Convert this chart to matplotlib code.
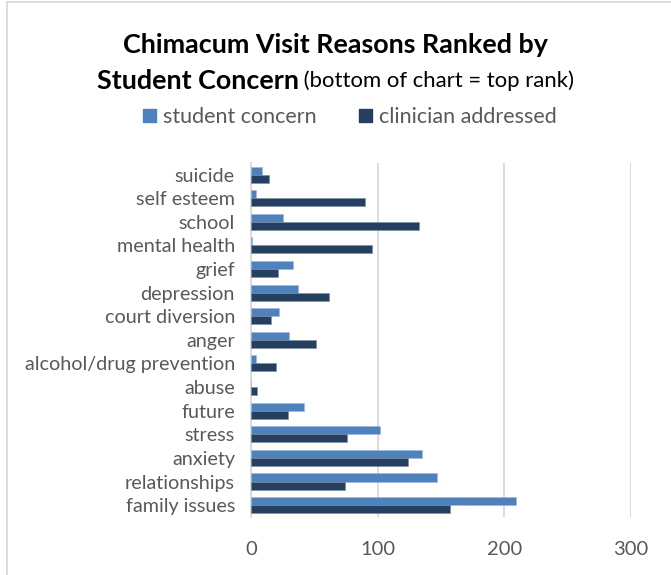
import matplotlib.pyplot as plt
from matplotlib.patches import Patch, Rectangle
import numpy as np

# categories listed bottom -> top (bottom of chart = top rank)
reasons = ['family issues', 'relationships', 'anxiety', 'stress', 'future', 'abuse',
           'alcohol/drug prevention', 'anger', 'court diversion', 'depression', 'grief',
           'mental health', 'school', 'self esteem', 'suicide']
student_concern = [209, 147, 135, 102, 42, 0, 4, 30, 22, 37, 33, 1, 25, 4, 9]
clinician_addressed = [157, 74, 124, 76, 29, 5, 20, 51, 16, 62, 21, 96, 133, 90, 14]
x_ticks = [0, 100, 200, 300]

plt.rcParams['font.family'] = ['Lato', 'DejaVu Sans']
text_gray = '#595959'
c_student = '#4F81BD'
c_clin = '#243F60'

fig = plt.figure(figsize=(6.71, 5.75), dpi=100)
ax = fig.add_axes([0.374, 0.101, 0.566, 0.616])

y = np.arange(len(reasons))
h = 0.34
ax.barh(y + h / 2, student_concern, height=h, color=c_student, edgecolor='#9DB7DA', linewidth=0.4, zorder=3)
ax.barh(y - h / 2, clinician_addressed, height=h, color=c_clin, edgecolor='#7A8BA3', linewidth=0.4, zorder=3)

ax.set_xlim(0, 300)
ax.set_ylim(-0.5, len(reasons) - 0.5)
ax.set_xticks(x_ticks)
ax.set_yticks(y)
ax.set_yticklabels(reasons)
ax.tick_params(length=0, labelsize=14.2, colors=text_gray)
ax.tick_params(axis='x', pad=17, labelsize=14.5)
ax.tick_params(axis='y', pad=11.5)
ax.grid(axis='x', color='#D9D9D9', linewidth=1.3, zorder=0)
for s in ['top', 'right', 'bottom']:
    ax.spines[s].set_visible(False)
ax.spines['left'].set_color('#D9D9D9')
ax.spines['left'].set_linewidth(1.3)

# outer chart border
fig.patches.append(Rectangle((7 / 671, -0.1), 1.2, 1.1 - 2 / 575, transform=fig.transFigure,
                             fill=False, edgecolor='#D9D9D9', linewidth=1.3))

# title
fig.text(0.5, 1 - 45 / 575, 'Chimacum Visit Reasons Ranked by', ha='center', va='center',
         fontsize=19.4, fontweight='bold', color='black')
t1 = fig.text(0.5, 1 - 81 / 575, 'Student Concern', ha='left', va='center',
              fontsize=19.4, fontweight='bold', color='black')
t2 = fig.text(0.5, 1 - 81 / 575, ' (bottom of chart = top rank)', ha='left', va='center',
              fontsize=15.9, color='black')
fig.canvas.draw()
r = fig.canvas.get_renderer()
w1 = t1.get_window_extent(r).width
w2 = t2.get_window_extent(r).width
W = fig.bbox.width
x0 = (W - w1 - w2) / 2 / W
t1.set_x(x0)
t2.set_x(x0 + w1 / W)

handles = [Patch(color=c_student, label='student concern'),
           Patch(color=c_clin, label='clinician addressed')]
fig.legend(handles=handles, loc='center', bbox_to_anchor=(350 / 671, 1 - 117 / 575), ncol=2,
           frameon=False, fontsize=15.5, labelcolor=text_gray, handlelength=0.6,
           handleheight=0.6, handletextpad=0.3, columnspacing=2.0)

fig.savefig('out.png', dpi=100)
